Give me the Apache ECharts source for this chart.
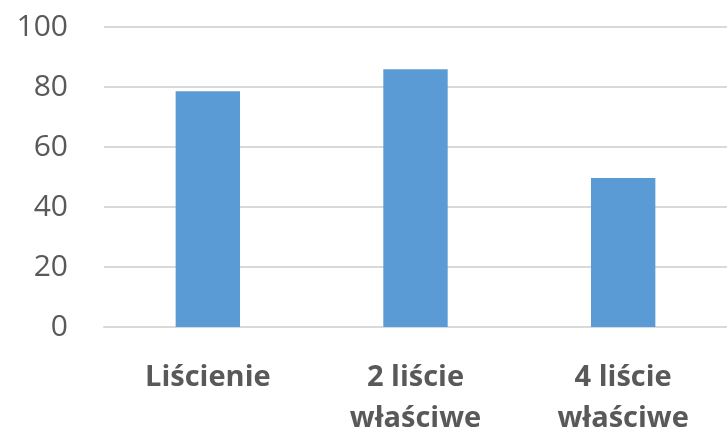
<!DOCTYPE html>
<html>
<head>
<meta charset="utf-8">
<script src="https://cdn.jsdelivr.net/npm/echarts@6/dist/echarts.min.js"></script>
<style>
  html, body { margin: 0; padding: 0; background: #fff; }
  #chart { width: 727px; height: 439px; }
</style>
</head>
<body>
<div id="chart"></div>
<script>
// categories and values
const categories = ['Liścienie', '2 liście\nwłaściwe', '4 liście\nwłaściwe'];
const values = [78.6, 85.9, 49.7];
const yTicks = [0, 20, 40, 60, 80, 100];

const chart = echarts.init(document.getElementById('chart'));

chart.setOption({
  animation: false,
  grid: { left: 104, right: 0, top: 27, bottom: 106, containLabel: false },
  xAxis: {
    type: 'category',
    data: categories,
    axisLine: { show: true, lineStyle: { color: '#d9d9d9', width: 2 } },
    axisTick: { show: false },
    axisLabel: {
      color: '#595959',
      fontFamily: 'Open Sans',
      fontWeight: 'bold',
      fontSize: 29,
      lineHeight: 41,
      margin: 30,
      interval: 0
    }
  },
  yAxis: {
    type: 'value',
    min: yTicks[0],
    max: yTicks[yTicks.length - 1],
    interval: 20,
    axisLine: { show: false },
    axisTick: { show: false },
    splitLine: { lineStyle: { color: '#d9d9d9', width: 2 } },
    axisLabel: {
      color: '#595959',
      fontFamily: 'Open Sans',
      fontSize: 30,
      margin: 36
    }
  },
  series: [{
    type: 'bar',
    data: values,
    barWidth: '31%',
    itemStyle: { color: '#5b9bd5' }
  }]
});
</script>
</body>
</html>
